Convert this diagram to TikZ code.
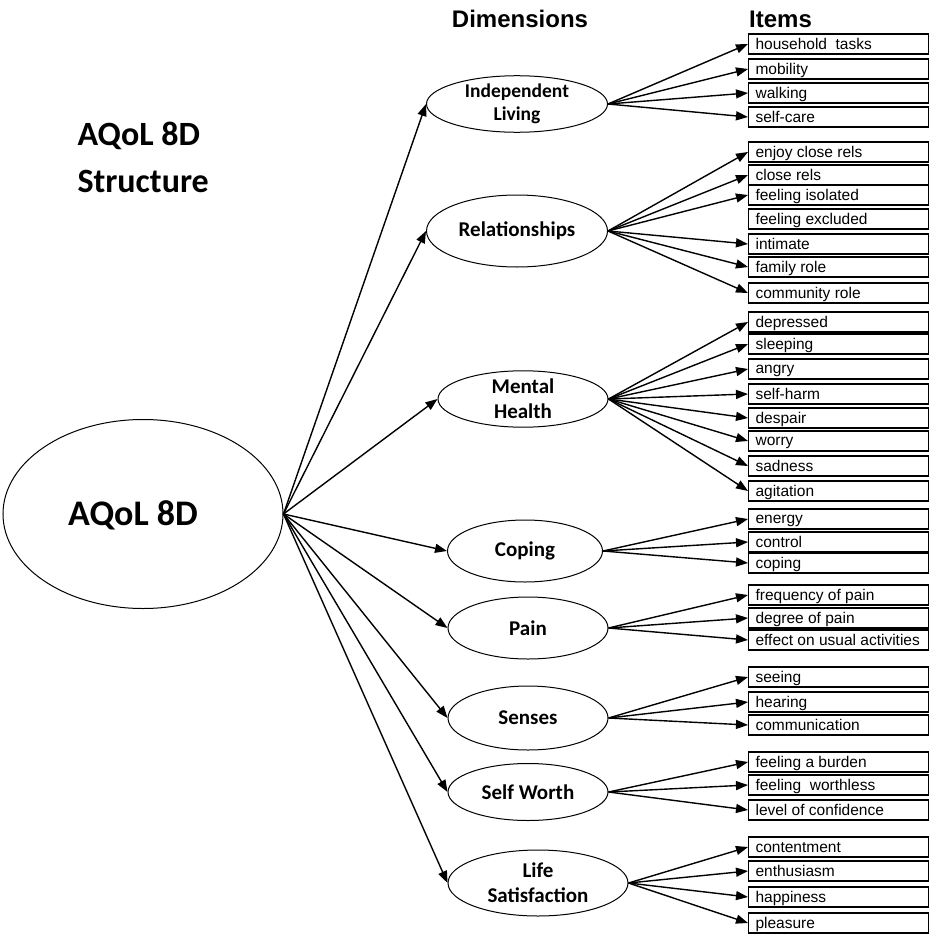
\documentclass[tikz,border=0pt]{standalone}
\usepackage{fontspec}
\usetikzlibrary{arrows.meta,shapes.geometric}
\newfontfamily\itemfont{Liberation Sans}
\newfontfamily\dimfont{Carlito}
\tikzset{
	dimnode/.style={draw, ellipse, line width=1pt, inner sep=0pt, align=center,
		font=\dimfont\bfseries\fontsize{21}{25}\selectfont},
	itembox/.style={draw, line width=1.1pt, anchor=west, inner xsep=7pt, inner ysep=0pt,
		minimum height=20pt, text depth=0pt,
		execute at begin node={\hbox to 166pt\bgroup},
		execute at end node={\hfil\egroup},
		font=\itemfont\fontsize{15.5}{18}\selectfont},
	link/.style={line width=1.4pt, -{Triangle[length=12pt,width=9pt]}}
}

\begin{document}
\begin{tikzpicture}[x=1pt, y=-1pt]
			%%%%% START %%%%%
			\useasboundingbox (0, 0) rectangle (929, 934);
			
			\node[anchor=base west, align=left, font=\dimfont\bfseries\fontsize{34}{47}\selectfont] (title) at (74, 192) {AQoL 8D\\Structure};
			\node[anchor=base, font=\itemfont\bfseries\fontsize{24}{28}\selectfont] (dimhead) at (520, 28) {Dimensions};
			\node[anchor=base west, inner xsep=0pt, font=\itemfont\bfseries\fontsize{24}{28}\selectfont] (itemhead) at (749, 28) {Items};
			
			\node[draw, ellipse, line width=1pt, inner sep=0pt, minimum width=280pt, minimum height=189pt] (aqol) at (143, 514) {};
			\node[anchor=base, font=\dimfont\bfseries\fontsize{36}{40}\selectfont] (aqollabel) at (133, 525) {AQoL 8D};
			
			%% dimensions
			\node[dimnode, minimum width=181pt, minimum height=52pt, font=\dimfont\bfseries\fontsize{19.5}{23}\selectfont] (indep) at (517, 104) {Independent\\Living};
			\node[dimnode, minimum width=181pt, minimum height=72pt] (rel) at (517, 231) {Relationships};
			\node[dimnode, minimum width=170pt, minimum height=56pt] (mental) at (523, 399) {Mental\\Health};
			\node[dimnode, minimum width=155pt, minimum height=62pt] (coping) at (525, 551) {Coping};
			\node[dimnode, minimum width=160pt, minimum height=62pt] (pain) at (528, 628) {Pain};
			\node[dimnode, minimum width=160pt, minimum height=64pt] (senses) at (528, 718) {Senses};
			\node[dimnode, minimum width=160pt, minimum height=57pt] (worth) at (528, 792) {Self Worth};
			\node[dimnode, minimum width=180pt, minimum height=66pt] (life) at (538, 883) {Life\\Satisfaction};
			
			%% items
			\node[itembox] (hh) at (748, 44) {household\ \ tasks};
			\node[itembox] (mob) at (748, 69) {mobility};
			\node[itembox] (walk) at (748, 93) {walking};
			\node[itembox] (care) at (748, 117) {self-care};
			
			\node[itembox] (enjoy) at (748, 152) {enjoy close rels};
			\node[itembox] (close) at (748, 175) {close rels};
			\node[itembox] (isol) at (748, 195) {feeling isolated};
			\node[itembox] (excl) at (748, 219) {feeling excluded};
			\node[itembox] (intim) at (748, 244) {intimate};
			\node[itembox] (fam) at (748, 267) {family role};
			\node[itembox] (comm) at (748, 293) {community role};
			
			\node[itembox] (depr) at (748, 322) {depressed};
			\node[itembox] (sleep) at (748, 344) {sleeping};
			\node[itembox] (angry) at (748, 369) {angry};
			\node[itembox] (harm) at (748, 394) {self-harm};
			\node[itembox] (desp) at (748, 418) {despair};
			\node[itembox] (worry) at (748, 441) {worry};
			\node[itembox] (sad) at (748, 466) {sadness};
			\node[itembox] (agit) at (748, 491) {agitation};
			
			\node[itembox] (energy) at (748, 519) {energy};
			\node[itembox] (ctrl) at (748, 542) {control};
			\node[itembox] (cope) at (748, 563) {coping};
			
			\node[itembox] (freq) at (748, 595) {frequency of pain};
			\node[itembox] (degr) at (748, 618) {degree of pain};
			\node[itembox] (effect) at (748, 640) {effect on usual activities};
			
			\node[itembox] (see) at (748, 677) {seeing};
			\node[itembox] (hear) at (748, 702) {hearing};
			\node[itembox] (commun) at (748, 725) {communication};
			
			\node[itembox] (burden) at (748, 762) {feeling a burden};
			\node[itembox] (worthl) at (748, 785) {feeling\ \ worthless};
			\node[itembox] (conf) at (748, 810) {level of confidence};
			
			\node[itembox] (cont) at (748, 847) {contentment};
			\node[itembox] (enth) at (748, 871) {enthusiasm};
			\node[itembox] (happy) at (748, 897) {happiness};
			\node[itembox] (pleas) at (748, 923) {pleasure};
			
			%% main to dimensions
			\draw[link] (aqol.east) -- (indep.west);
			\draw[link] (aqol.east) -- (rel.west);
			\draw[link] (aqol.east) -- (mental.west);
			\draw[link] (aqol.east) -- (coping.west);
			\draw[link] (aqol.east) -- (pain.west);
			\draw[link] (aqol.east) -- (senses.west);
			\draw[link] (aqol.east) -- (worth.west);
			\draw[link] (aqol.east) -- (life.west);
			
			%% dimensions to items
			\draw[link] (indep.east) -- (hh.west);
			\draw[link] (indep.east) -- (mob.west);
			\draw[link] (indep.east) -- (walk.west);
			\draw[link] (indep.east) -- (care.west);
			
			\draw[link] (rel.east) -- (enjoy.west);
			\draw[link] (rel.east) -- (close.west);
			\draw[link] (rel.east) -- (isol.west);
			\draw[link] (rel.east) -- (intim.west);
			\draw[link] (rel.east) -- (fam.west);
			\draw[link] (rel.east) -- (comm.west);
			
			\draw[link] (mental.east) -- (depr.west);
			\draw[link] (mental.east) -- (sleep.west);
			\draw[link] (mental.east) -- (angry.west);
			\draw[link] (mental.east) -- (harm.west);
			\draw[link] (mental.east) -- (desp.west);
			\draw[link] (mental.east) -- (worry.west);
			\draw[link] (mental.east) -- (sad.west);
			\draw[link] (mental.east) -- (agit.west);
			
			\draw[link] (coping.east) -- (energy.west);
			\draw[link] (coping.east) -- (ctrl.west);
			\draw[link] (coping.east) -- (cope.west);
			
			\draw[link] (pain.east) -- (freq.west);
			\draw[link] (pain.east) -- (degr.west);
			\draw[link] (pain.east) -- (effect.west);
			
			\draw[link] (senses.east) -- (see.west);
			\draw[link] (senses.east) -- (hear.west);
			\draw[link] (senses.east) -- (commun.west);
			
			\draw[link] (worth.east) -- (burden.west);
			\draw[link] (worth.east) -- (worthl.west);
			\draw[link] (worth.east) -- (conf.west);
			
			\draw[link] (life.east) -- (cont.west);
			\draw[link] (life.east) -- (enth.west);
			\draw[link] (life.east) -- (happy.west);
			\draw[link] (life.east) -- (pleas.west);
			
			%%%%% END %%%%%
		\end{tikzpicture}
\end{document}
